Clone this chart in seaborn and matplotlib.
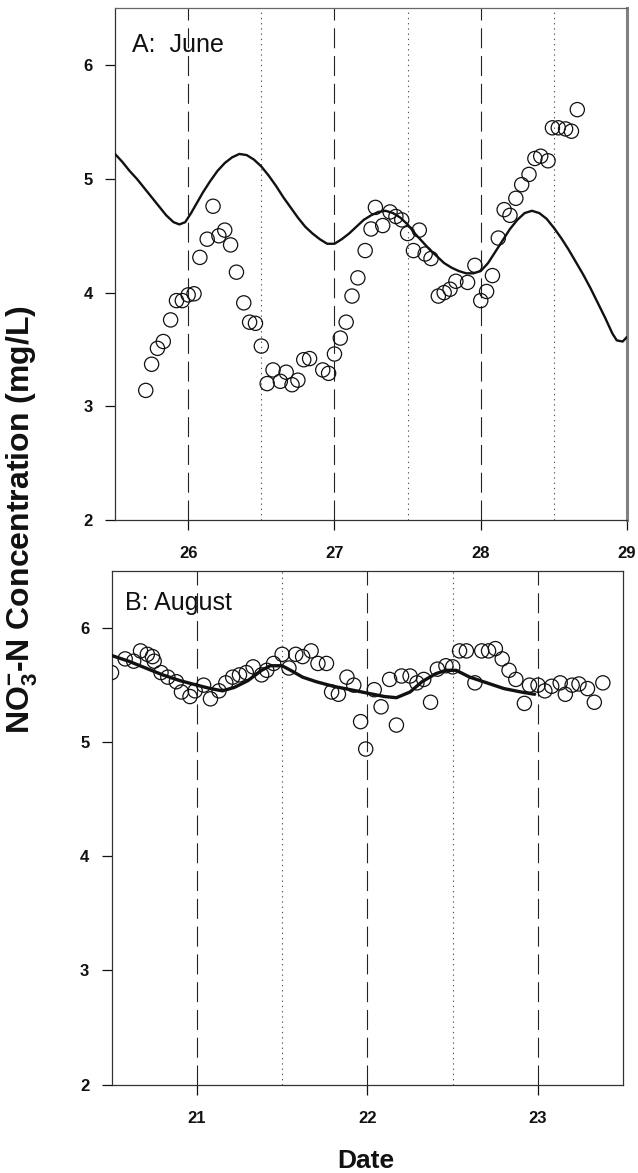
import numpy as np
import pandas as pd
import matplotlib
matplotlib.use("Agg")
import matplotlib.pyplot as plt
import seaborn as sns

# A: June - measured NO3-N (mg/L)
june_day = [25.71, 25.75, 25.79, 25.83, 25.88, 25.92, 25.96, 26.00, 26.04, 26.08,
            26.13, 26.17, 26.21, 26.25, 26.29, 26.33, 26.38, 26.42, 26.46, 26.50,
            26.54, 26.58, 26.63, 26.67, 26.71, 26.75, 26.79, 26.83, 26.92, 26.96,
            27.00, 27.04, 27.08, 27.12, 27.16, 27.21, 27.25, 27.28, 27.33, 27.38,
            27.42, 27.46, 27.50, 27.54, 27.58, 27.62, 27.66, 27.71, 27.75, 27.79,
            27.83, 27.91, 27.96, 28.00, 28.04, 28.08, 28.12, 28.16, 28.20, 28.24,
            28.28, 28.33, 28.37, 28.41, 28.46, 28.49, 28.53, 28.58, 28.62, 28.66]
june_no3 = [3.14, 3.37, 3.51, 3.57, 3.76, 3.93, 3.93, 3.98, 3.99, 4.31,
            4.47, 4.76, 4.50, 4.55, 4.42, 4.18, 3.91, 3.74, 3.73, 3.53,
            3.20, 3.32, 3.22, 3.30, 3.19, 3.23, 3.41, 3.42, 3.32, 3.29,
            3.46, 3.60, 3.74, 3.97, 4.13, 4.37, 4.56, 4.75, 4.59, 4.71,
            4.67, 4.64, 4.52, 4.37, 4.55, 4.34, 4.30, 3.97, 4.00, 4.03,
            4.10, 4.09, 4.24, 3.93, 4.01, 4.15, 4.48, 4.73, 4.68, 4.83,
            4.95, 5.04, 5.18, 5.20, 5.16, 5.45, 5.45, 5.44, 5.42, 5.61]

# A: June - model line
june_fit_day = [25.50, 25.55, 25.60, 25.65, 25.70, 25.75, 25.80, 25.85, 25.90, 25.94,
                25.98, 26.02, 26.06, 26.10, 26.15, 26.20, 26.25, 26.30, 26.35, 26.40,
                26.45, 26.50, 26.55, 26.60, 26.65, 26.70, 26.75, 26.80, 26.85, 26.90,
                26.95, 27.00, 27.05, 27.10, 27.15, 27.20, 27.25, 27.30, 27.35, 27.40,
                27.45, 27.50, 27.55, 27.60, 27.65, 27.70, 27.75, 27.80, 27.85, 27.90,
                27.95, 28.00, 28.05, 28.10, 28.15, 28.20, 28.25, 28.30, 28.35, 28.40,
                28.45, 28.50, 28.55, 28.60, 28.65, 28.70, 28.75, 28.80, 28.85, 28.90,
                28.93, 28.97, 29.00]
june_fit_no3 = [5.22, 5.15, 5.07, 5.00, 4.92, 4.84, 4.76, 4.68, 4.62, 4.60,
                4.62, 4.70, 4.79, 4.88, 4.98, 5.07, 5.14, 5.19, 5.22, 5.21,
                5.17, 5.11, 5.03, 4.94, 4.84, 4.75, 4.66, 4.58, 4.52, 4.47,
                4.43, 4.43, 4.47, 4.52, 4.58, 4.64, 4.68, 4.71, 4.72, 4.70,
                4.66, 4.60, 4.52, 4.45, 4.38, 4.32, 4.26, 4.22, 4.19, 4.17,
                4.17, 4.19, 4.26, 4.36, 4.46, 4.56, 4.64, 4.70, 4.72, 4.70,
                4.65, 4.57, 4.48, 4.38, 4.27, 4.16, 4.04, 3.91, 3.78, 3.64,
                3.58, 3.57, 3.61]

# B: August - measured NO3-N (mg/L)
aug_day = [20.50, 20.58, 20.63, 20.67, 20.71, 20.74, 20.75, 20.79, 20.83, 20.88,
           20.91, 20.96, 20.99, 21.04, 21.08, 21.13, 21.17, 21.21, 21.25, 21.29,
           21.33, 21.38, 21.41, 21.45, 21.50, 21.54, 21.58, 21.62, 21.67, 21.71,
           21.76, 21.79, 21.83, 21.88, 21.92, 21.96, 21.99, 22.04, 22.08, 22.13,
           22.17, 22.20, 22.25, 22.29, 22.33, 22.37, 22.41, 22.46, 22.50, 22.54,
           22.58, 22.63, 22.67, 22.71, 22.75, 22.79, 22.83, 22.87, 22.92, 22.95,
           23.00, 23.04, 23.08, 23.13, 23.16, 23.20, 23.24, 23.29, 23.33, 23.38]
aug_no3 = [5.61, 5.73, 5.71, 5.80, 5.77, 5.75, 5.71, 5.61, 5.57, 5.53,
           5.44, 5.40, 5.45, 5.50, 5.38, 5.45, 5.52, 5.57, 5.59, 5.61,
           5.66, 5.59, 5.63, 5.69, 5.77, 5.65, 5.77, 5.75, 5.80, 5.69,
           5.69, 5.44, 5.42, 5.57, 5.50, 5.18, 4.94, 5.46, 5.31, 5.55,
           5.15, 5.58, 5.58, 5.52, 5.55, 5.35, 5.64, 5.67, 5.66, 5.80,
           5.80, 5.52, 5.80, 5.80, 5.82, 5.73, 5.63, 5.55, 5.34, 5.50,
           5.50, 5.45, 5.49, 5.52, 5.42, 5.50, 5.51, 5.47, 5.35, 5.52]

# B: August - model line
aug_fit_day = [20.50, 20.60, 20.70, 20.80, 20.90, 21.00, 21.08, 21.15, 21.22, 21.30,
               21.38, 21.43, 21.50, 21.55, 21.62, 21.70, 21.80, 21.90, 22.00, 22.10,
               22.17, 22.25, 22.32, 22.40, 22.46, 22.52, 22.60, 22.70, 22.80, 22.90,
               22.98]
aug_fit_no3 = [5.76, 5.71, 5.65, 5.59, 5.54, 5.50, 5.47, 5.45, 5.48, 5.54,
               5.63, 5.67, 5.67, 5.63, 5.57, 5.53, 5.49, 5.46, 5.43, 5.40,
               5.39, 5.44, 5.53, 5.60, 5.63, 5.63, 5.57, 5.52, 5.47, 5.44,
               5.42]

june_ticks = [26, 27, 28, 29]
june_midnight = [26, 27, 28]
june_noon = [26.5, 27.5, 28.5]
aug_ticks = [21, 22, 23]
aug_midnight = [21, 22, 23]
aug_noon = [21.5, 22.5]
conc_ticks = [2, 3, 4, 5, 6]

sns.set_style("ticks")
plt.rcParams['font.family'] = ['Liberation Sans', 'DejaVu Sans']
plt.rcParams['mathtext.fontset'] = 'custom'
plt.rcParams['mathtext.rm'] = 'Liberation Sans:bold'
plt.rcParams['mathtext.default'] = 'rm'
plt.rcParams['text.color'] = '#111111'
plt.rcParams['xtick.color'] = '#111111'
plt.rcParams['ytick.color'] = '#111111'
plt.rcParams['xtick.labelcolor'] = '#111111'
plt.rcParams['ytick.labelcolor'] = '#111111'

fig = plt.figure(figsize=(6.38, 11.73), dpi=100)
ax1 = fig.add_axes([0.1803, 0.5567, 0.8025, 0.4361])
ax2 = fig.add_axes([0.1748, 0.0754, 0.8022, 0.4378])


def draw_panel(ax, day, no3, fit_day, fit_no3, xlim, ticks, midnight, noon, label, lx, ly, fit_lw):
    # dashed = midnight, dotted = noon
    for d in midnight:
        ax.axvline(d, color='#222222', lw=0.8, dashes=(18, 7), zorder=1)
    for d in noon:
        ax.axvline(d, color='#555555', lw=0.8, dashes=(1.2, 3.5), zorder=1)

    sns.lineplot(x=fit_day, y=fit_no3, ax=ax, color='#111111', lw=fit_lw,
                 estimator=None, sort=False, zorder=3)
    sns.scatterplot(x=day, y=no3, ax=ax, s=105, marker='o', zorder=4, legend=False)
    pts = ax.collections[-1]
    pts.set_facecolor('none')
    pts.set_edgecolor('#111111')
    pts.set_linewidth(0.9)

    ax.set_xlim(*xlim)
    ax.set_ylim(2, 6.5)
    ax.set_xticks(ticks)
    ax.set_xticklabels([str(t) for t in ticks], fontweight='bold', fontsize=12)
    ax.set_yticks(conc_ticks)
    ax.set_yticklabels([str(t) for t in conc_ticks], fontweight='bold', fontsize=12)
    ax.tick_params(axis='x', direction='out', length=7, width=0.9, pad=12)
    ax.tick_params(axis='y', direction='out', length=7, width=0.9, pad=9)
    ax.set_xlabel('')
    ax.set_ylabel('')
    for s in ['left', 'bottom', 'top', 'right']:
        ax.spines[s].set_linewidth(0.9)
        ax.spines[s].set_color('#333333')
    ax.text(lx, ly, label, transform=ax.transAxes, fontsize=18, va='baseline', ha='left')


draw_panel(ax1, june_day, june_no3, june_fit_day, june_fit_no3, (25.5, 29), june_ticks,
           june_midnight, june_noon, 'A:  June', 0.033, 0.915, 1.7)
ax1.spines['right'].set_linewidth(2.2)
ax1.spines['right'].set_color('#808080')
ax1.spines['top'].set_color('#666666')

draw_panel(ax2, aug_day, aug_no3, aug_fit_day, aug_fit_no3, (20.5, 23.5), aug_ticks,
           aug_midnight, aug_noon, 'B: August', 0.026, 0.924, 2.4)

fig.text(22 / 638, 1 - 520 / 1173, r'NO$_3^{-}$-N Concentration (mg/L)', rotation=90,
         fontsize=23, fontweight='bold', ha='center', va='center')
fig.text(366 / 638, 1 - 1161 / 1173, 'Date', fontsize=19, fontweight='bold',
         ha='center', va='center')

fig.savefig('out.png', dpi=100)
